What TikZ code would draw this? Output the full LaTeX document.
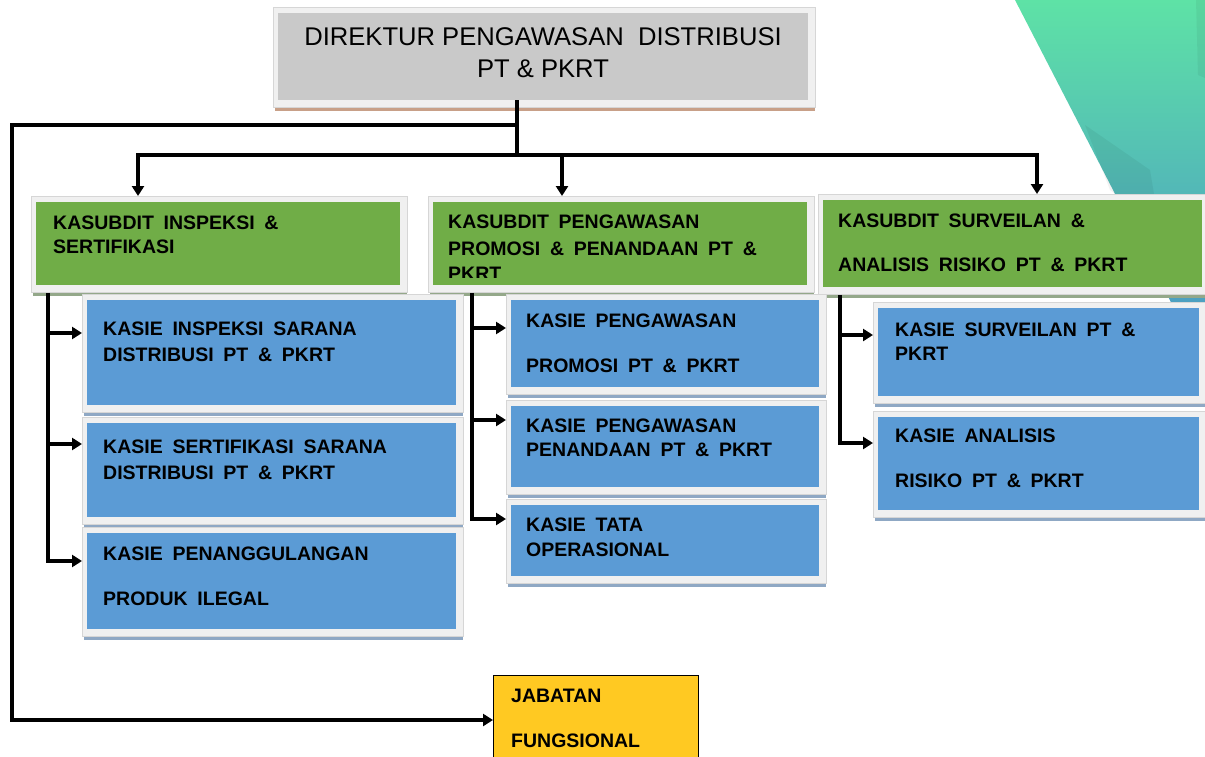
\documentclass[tikz,border=0pt]{standalone}
\usepackage{fontspec}
\setmainfont{Liberation Sans}
\newfontfamily\boxfont[WordSpace=1.8]{Liberation Sans}
\usetikzlibrary{arrows.meta}
\definecolor{dirgray}{HTML}{C9C9C9}
\definecolor{dirshadow}{HTML}{C8A088}
\definecolor{grn}{HTML}{70AD47}
\definecolor{grnshadow}{HTML}{94A88A}
\definecolor{blu}{HTML}{5B9BD5}
\definecolor{blushadow}{HTML}{8FA8C4}
\definecolor{framefill}{HTML}{F0F0F0}
\definecolor{frameline}{HTML}{D6D6D6}
\definecolor{yel}{HTML}{FFC922}
\definecolor{mint}{HTML}{5EE2A6}
\definecolor{tealb}{HTML}{4C9EC2}
\tikzset{
  framebox/.style={anchor=north west, inner sep=0pt, fill=framefill, draw=frameline, line width=0.8pt},
  innerbox/.style={anchor=north west, inner sep=0pt},
  lbl/.style={inner sep=0pt, anchor=base west, font=\boxfont\bfseries\fontsize{19.5}{22}\selectfont},
  dirlbl/.style={inner sep=0pt, anchor=base, font=\fontsize{25.6}{28}\selectfont},
  conn/.style={line width=3.3pt, black},
  arr/.style={line width=3.3pt, black, -{Triangle[length=10pt,width=12pt]}},
}
% name, x1, y1, x2, y2, fill, shadow
\newcommand\obox[7]{%
  \fill[#7] (#2-3,#5+7) rectangle (#4+7,#5+11);
  \node[framebox, minimum width={(#4-#2+12)*1pt}, minimum height={(#5-#3+13)*1pt}] (#1f) at (#2-5,#3-6) {};
  \node[innerbox, fill=#6, minimum width={(#4-#2)*1pt}, minimum height={(#5-#3)*1pt}] (#1) at (#2,#3) {};
}
\newcommand\boxline[4]{\node[lbl] (#1) at (#2,#3+7) {#4};}
\begin{document}
\begin{tikzpicture}[x=1pt,y=-1pt]
\useasboundingbox (0,0) rectangle (1205,757);
\fill[white] (0,0) rectangle (1205,757);
% decoration top right
\shade[top color=mint, bottom color=tealb] (1015,0) -- (1210,0) -- (1210,312) -- (1176,312) -- cycle;
\fill[black, opacity=0.05] (1085,125) -- (1150,170) -- (1160,230) -- (1110,190) -- cycle;
\fill[black, opacity=0.05] (1196,0) -- (1210,0) -- (1210,80) -- (1198,75) -- cycle;

% director
\obox{dir}{278}{13}{808}{100}{dirgray}{dirshadow}
\node[dirlbl] (d1) at (543,37+9) {DIREKTUR PENGAWASAN\ \ DISTRIBUSI};
\node[dirlbl] (d2) at (543,69+9) {PT \& PKRT};

% kasubdit
\obox{ga}{36}{202}{400}{285}{grn}{grnshadow}
\obox{gb}{433}{202}{807}{285}{grn}{grnshadow}
\obox{gc}{823}{200}{1202}{287}{grn}{grnshadow}
\boxline{ga1}{53}{222}{KASUBDIT INSPEKSI \&}
\boxline{ga2}{53}{246.5}{SERTIFIKASI}
\boxline{gb1}{448}{221.5}{KASUBDIT PENGAWASAN}
\boxline{gb2}{448}{248}{PROMOSI \& PENANDAAN PT \&}
\begin{scope}
  \clip (433,202) rectangle (807,277);
  \boxline{gb3}{448}{273}{PKRT}
\end{scope}
\boxline{gc1}{838}{220}{KASUBDIT SURVEILAN \&}
\boxline{gc2}{838}{264.5}{ANALISIS RISIKO PT \& PKRT}

% kasie column 1
\obox{ka}{87}{300}{456}{405}{blu}{blushadow}
\obox{kb}{87}{423}{456}{517}{blu}{blushadow}
\obox{kc}{87}{533}{456}{629}{blu}{blushadow}
\boxline{ka1}{103}{328}{KASIE INSPEKSI SARANA}
\boxline{ka2}{103}{354}{DISTRIBUSI PT \& PKRT}
\boxline{kb1}{103}{446}{KASIE SERTIFIKASI SARANA}
\boxline{kb2}{103}{472}{DISTRIBUSI PT \& PKRT}
\boxline{kc1}{103}{553}{KASIE PENANGGULANGAN}
\boxline{kc2}{103}{598.5}{PRODUK ILEGAL}

% kasie column 2
\obox{kd}{511}{300}{819}{387}{blu}{blushadow}
\obox{ke}{511}{406}{819}{487}{blu}{blushadow}
\obox{kf}{511}{505}{819}{576}{blu}{blushadow}
\boxline{kd1}{526}{320}{KASIE PENGAWASAN}
\boxline{kd2}{526}{365}{PROMOSI PT \& PKRT}
\boxline{ke1}{526}{425}{KASIE PENGAWASAN}
\boxline{ke2}{526}{449}{PENANDAAN PT \& PKRT}
\boxline{kf1}{526}{524}{KASIE TATA}
\boxline{kf2}{526}{549}{OPERASIONAL}

% kasie column 3
\obox{kg}{878}{308}{1199}{396}{blu}{blushadow}
\obox{kh}{878}{417}{1199}{510}{blu}{blushadow}
\boxline{kg1}{895}{329}{KASIE SURVEILAN PT \&}
\boxline{kg2}{895}{353}{PKRT}
\boxline{kh1}{895}{435}{KASIE ANALISIS}
\boxline{kh2}{895}{480}{RISIKO PT \& PKRT}

% jabatan fungsional
\node[draw=black, line width=1pt, fill=yel, anchor=north west, inner sep=0pt,
      minimum width=205pt, minimum height=95pt] (jab) at (493,675) {};
\boxline{j1}{511}{695}{JABATAN}
\boxline{j2}{511}{740}{FUNGSIONAL}

% connectors
\coordinate (hub) at (517,155);
\coordinate (split) at (517,125);
\coordinate (b1) at (138,155);
\coordinate (b2) at (562,155);
\coordinate (b3) at (1037,155);
\coordinate (lft) at (12,125);
\coordinate (lfb) at (12,720);
\draw[conn] (dir.south -| hub) -- (hub);
\draw[conn, line cap=rect] (b1) -- (b3);
\draw[arr] (b1) -- (b1 |- gaf.north);
\draw[arr] (b2) -- (b2 |- gbf.north);
\draw[arr] (b3) -- (b3 |- gcf.north);
\draw[arr] (split) -- (lft) -- (lfb) -- (lfb -| jab.west);

\coordinate (c1a) at (48,333);
\coordinate (c1b) at (48,444);
\coordinate (c1c) at (48,561);
\draw[arr] (c1c |- gaf.south) -- (c1c) -- (c1c -| kcf.west);
\draw[arr] (c1a) -- (c1a -| kaf.west);
\draw[arr] (c1b) -- (c1b -| kbf.west);

\coordinate (c2a) at (472,328);
\coordinate (c2b) at (472,420);
\coordinate (c2c) at (472,519);
\draw[arr] (c2c |- gbf.south) -- (c2c) -- (c2c -| kff.west);
\draw[arr] (c2a) -- (c2a -| kdf.west);
\draw[arr] (c2b) -- (c2b -| kef.west);

\coordinate (c3a) at (840,335);
\coordinate (c3b) at (840,443);
\draw[arr] (c3b |- gcf.south) -- (c3b) -- (c3b -| khf.west);
\draw[arr] (c3a) -- (c3a -| kgf.west);
\end{tikzpicture}
\end{document}
